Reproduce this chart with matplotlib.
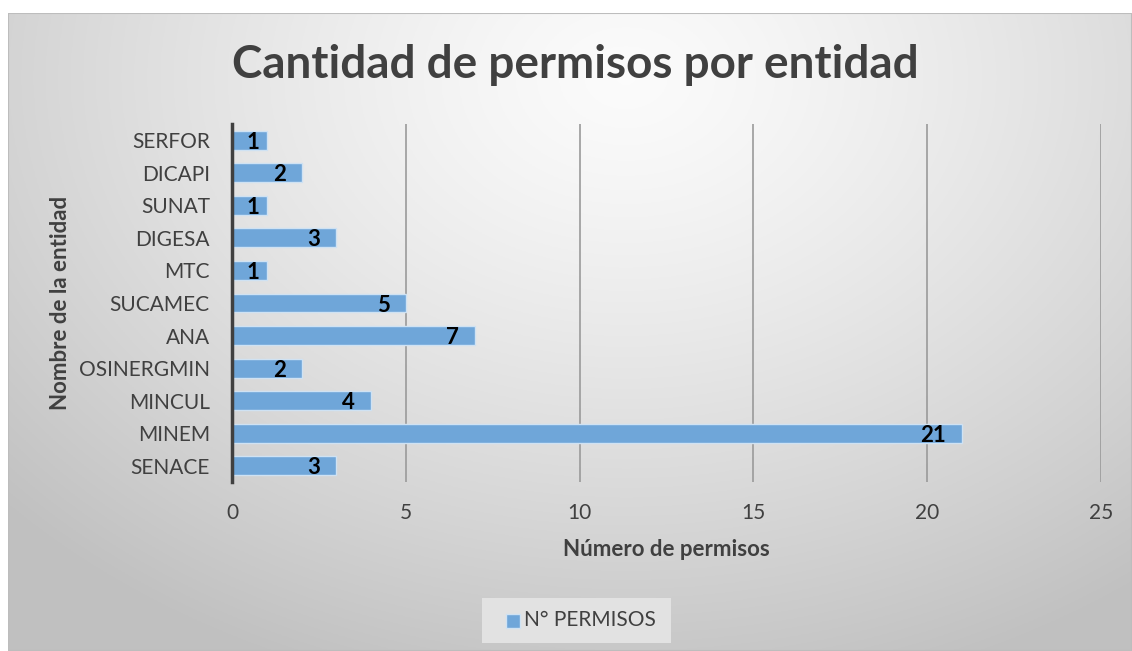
import numpy as np
import matplotlib
matplotlib.use("Agg")
import matplotlib.pyplot as plt
from matplotlib.patches import Rectangle

categories = ["SERFOR", "DICAPI", "SUNAT", "DIGESA", "MTC", "SUCAMEC",
              "ANA", "OSINERGMIN", "MINCUL", "MINEM", "SENACE"]
values = [1, 2, 1, 3, 1, 5, 7, 2, 4, 21, 3]
xticks = [0, 5, 10, 15, 20, 25]
title = "Cantidad de permisos por entidad"
xlabel = "Número de permisos"
ylabel = "Nombre de la entidad"
series_name = "N° PERMISOS"

plt.rcParams['font.family'] = ['Lato', 'DejaVu Sans']

W, H = 1132, 651
fig = plt.figure(figsize=(W / 100, H / 100), dpi=100)
fig.patch.set_facecolor("white")

# radial gradient background of chart area
bg = fig.add_axes([8 / W, 0, 1 - 8 / W, (H - 13) / H])
bg.set_axis_off()
yy, xx = np.mgrid[0:1:300j, 0:1:500j]
d = np.sqrt(((xx - 0.55) / 0.75) ** 2 + ((yy - 0.1) / 1.0) ** 2)
d = np.clip(d, 0, 1)
g = 0.985 - 0.23 * d ** 1.3
img = np.dstack([g, g, g])
bg.imshow(img, aspect="auto", extent=[0, 1, 0, 1], origin="upper")
bg.add_patch(Rectangle((0, 0), 1, 1, fill=False, edgecolor="#bdbdbd", lw=1.5,
                       transform=bg.transAxes))

ax = fig.add_axes([232 / W, (H - 482) / H, (1101 - 232) / W, (482 - 124) / H])
ax.patch.set_alpha(0)
ypos = np.arange(len(categories))
bars = ax.barh(ypos, values, height=0.58, color="#6fa6d9",
               edgecolor="#cfe2f3", linewidth=1.0, zorder=3)
ax.set_ylim(len(categories) - 0.5, -0.5)
ax.set_xlim(0, 25)
ax.set_xticks(xticks)
ax.set_yticks(ypos)
ax.set_yticklabels(categories)
ax.tick_params(axis="y", length=0, pad=16, labelsize=15, labelcolor="#404040")
ax.tick_params(axis="x", length=0, pad=15, labelsize=15, labelcolor="#404040")
for s in ["top", "right", "bottom"]:
    ax.spines[s].set_visible(False)
ax.spines["left"].set_color("#404040")
ax.spines["left"].set_linewidth(2.5)
ax.spines["left"].set_zorder(5)
ax.xaxis.grid(True, color="#9a9a9a", linewidth=1.2, zorder=0)
ax.set_axisbelow(True)

for b, v in zip(bars, values):
    yc = b.get_y() + b.get_height() / 2
    off = -7 if v < 2 else -16
    ax.annotate(str(v), (v, yc), xytext=(off, -2), textcoords="offset pixels",
                ha="right", va="center", fontsize=16, fontweight="bold",
                color="black", zorder=6)

ax.set_xlabel(xlabel, fontsize=16, fontweight="bold", color="#404040", labelpad=12)
ax.set_ylabel(ylabel, fontsize=16, fontweight="bold", color="#404040")
ax.yaxis.set_label_coords(-(232 - 71) / (1101 - 232), 0.5)

fig.text(575 / W, (H - 65) / H, title, ha="center", va="center",
         fontsize=33, fontweight="bold", color="#404040")

# legend
leg = fig.add_axes([482 / W, (H - 643) / H, (671 - 482) / W, (643 - 598) / H])
leg.set_xlim(0, 189); leg.set_ylim(0, 45)
leg.set_axis_off()
leg.add_patch(Rectangle((0, 0), 189, 45, facecolor="#e2e2e2", edgecolor="none"))
leg.add_patch(Rectangle((24, 15), 14, 14, facecolor="#6fa6d9", edgecolor="#cfe2f3", lw=1))
leg.text(42, 22.5, series_name, ha="left", va="center", fontsize=15, color="#404040")

fig.savefig("out.png", dpi=100)
